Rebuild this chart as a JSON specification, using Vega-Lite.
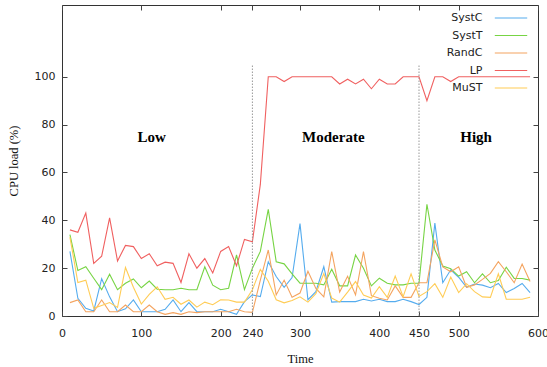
{
  "$schema": "https://vega.github.io/schema/vega-lite/v6.json",
  "width": 476,
  "height": 311,
  "autosize": {"type": "none"},
  "padding": {"left": 62, "top": 5, "right": 9, "bottom": 51},
  "config": {
    "view": {"stroke": "#333333", "strokeWidth": 1},
    "font": "DejaVu Sans",
    "axis": {
      "domain": false,
      "grid": false,
      "tickColor": "#444444",
      "tickSize": -5,
      "tickWidth": 1,
      "labelFont": "DejaVu Sans",
      "labelFontSize": 11,
      "labelColor": "#222222",
      "titleFont": "Liberation Serif",
      "titleFontSize": 12.5,
      "titleFontWeight": "normal",
      "titleColor": "#111111"
    }
  },
  "datasets": {
    "cpu": [
      {"t":10,"SystC":27,"SystT":34,"RandC":5.6,"LP":36,"MuST":33},
      {"t":20,"SystC":7.4,"SystT":19,"RandC":6.7,"LP":35,"MuST":14},
      {"t":30,"SystC":3.2,"SystT":20.6,"RandC":1.8,"LP":43,"MuST":15},
      {"t":40,"SystC":2.1,"SystT":15.8,"RandC":1.8,"LP":22,"MuST":3.2},
      {"t":50,"SystC":15.6,"SystT":11,"RandC":6.7,"LP":25,"MuST":4.4},
      {"t":60,"SystC":8,"SystT":17.5,"RandC":1.8,"LP":41,"MuST":5.6},
      {"t":70,"SystC":1.8,"SystT":11,"RandC":1.8,"LP":23,"MuST":3.6},
      {"t":80,"SystC":3,"SystT":13.7,"RandC":4.6,"LP":29.5,"MuST":20.3},
      {"t":90,"SystC":6.7,"SystT":15.5,"RandC":1.8,"LP":29,"MuST":12},
      {"t":100,"SystC":1.8,"SystT":11.8,"RandC":1.8,"LP":24,"MuST":5},
      {"t":110,"SystC":1.8,"SystT":14.6,"RandC":4.6,"LP":26,"MuST":9},
      {"t":120,"SystC":1.8,"SystT":11.2,"RandC":1.8,"LP":21,"MuST":12.2},
      {"t":130,"SystC":2.8,"SystT":11,"RandC":0.7,"LP":22.5,"MuST":7},
      {"t":140,"SystC":6.7,"SystT":11,"RandC":1.4,"LP":22,"MuST":7.8},
      {"t":150,"SystC":1.8,"SystT":11.6,"RandC":0.7,"LP":14,"MuST":4.9},
      {"t":160,"SystC":5.6,"SystT":11,"RandC":1.8,"LP":26,"MuST":6.7},
      {"t":170,"SystC":1.8,"SystT":11,"RandC":1.4,"LP":20,"MuST":3.7},
      {"t":180,"SystC":1.8,"SystT":20.6,"RandC":1.8,"LP":24,"MuST":5.8},
      {"t":190,"SystC":1.8,"SystT":12.9,"RandC":1.8,"LP":18,"MuST":4.7},
      {"t":200,"SystC":2.8,"SystT":11,"RandC":1.8,"LP":27,"MuST":6.8},
      {"t":210,"SystC":1.8,"SystT":11.6,"RandC":1.8,"LP":29,"MuST":6.7},
      {"t":220,"SystC":0.7,"SystT":25.5,"RandC":2.8,"LP":21,"MuST":5.8},
      {"t":230,"SystC":6,"SystT":11,"RandC":1.8,"LP":32,"MuST":5.8},
      {"t":240,"SystC":8.8,"SystT":20,"RandC":1.5,"LP":31,"MuST":11},
      {"t":250,"SystC":8.1,"SystT":27,"RandC":15,"LP":55,"MuST":19.5},
      {"t":260,"SystC":22.7,"SystT":44.6,"RandC":27.6,"LP":100,"MuST":14.5},
      {"t":270,"SystC":16.5,"SystT":22.7,"RandC":8.8,"LP":100,"MuST":6.8},
      {"t":280,"SystC":12,"SystT":21.8,"RandC":15,"LP":98,"MuST":5.5},
      {"t":290,"SystC":16.1,"SystT":17.6,"RandC":7.8,"LP":100,"MuST":6.5},
      {"t":300,"SystC":38.6,"SystT":13.7,"RandC":9.6,"LP":100,"MuST":8},
      {"t":310,"SystC":6.8,"SystT":13.7,"RandC":18.7,"LP":100,"MuST":5.8},
      {"t":320,"SystC":10.2,"SystT":13.7,"RandC":11.5,"LP":100,"MuST":9.3},
      {"t":330,"SystC":20.6,"SystT":13,"RandC":8,"LP":100,"MuST":17.7},
      {"t":340,"SystC":5.8,"SystT":19.5,"RandC":26.9,"LP":100,"MuST":7.5},
      {"t":350,"SystC":6,"SystT":12.6,"RandC":10,"LP":97,"MuST":5.8},
      {"t":360,"SystC":6,"SystT":12.6,"RandC":16.6,"LP":99,"MuST":10},
      {"t":370,"SystC":6,"SystT":25.5,"RandC":8.8,"LP":97,"MuST":14.4},
      {"t":380,"SystC":7,"SystT":20,"RandC":26.9,"LP":99,"MuST":8.8},
      {"t":390,"SystC":6.3,"SystT":12.6,"RandC":8.5,"LP":95,"MuST":7.5},
      {"t":400,"SystC":7,"SystT":15.8,"RandC":7.4,"LP":99,"MuST":12.3},
      {"t":410,"SystC":6,"SystT":13.7,"RandC":6.7,"LP":97,"MuST":7.8},
      {"t":420,"SystC":6,"SystT":13,"RandC":12.6,"LP":97,"MuST":16.7},
      {"t":430,"SystC":7,"SystT":13,"RandC":7.8,"LP":100,"MuST":8.1},
      {"t":440,"SystC":6,"SystT":13.7,"RandC":7.8,"LP":100,"MuST":17.6},
      {"t":450,"SystC":4.8,"SystT":13.7,"RandC":13.9,"LP":100,"MuST":8.2},
      {"t":460,"SystC":7.8,"SystT":46.7,"RandC":13.9,"LP":90,"MuST":10.2},
      {"t":470,"SystC":38.8,"SystT":27.6,"RandC":31.8,"LP":100,"MuST":13.5},
      {"t":480,"SystC":13.9,"SystT":20.9,"RandC":20.5,"LP":100,"MuST":7.8},
      {"t":490,"SystC":19.3,"SystT":19.8,"RandC":18.5,"LP":98,"MuST":16.3},
      {"t":500,"SystC":16.2,"SystT":16.7,"RandC":20.6,"LP":100,"MuST":9.8},
      {"t":510,"SystC":12,"SystT":18.5,"RandC":12,"LP":100,"MuST":13.5},
      {"t":520,"SystC":13.4,"SystT":13.9,"RandC":13,"LP":100,"MuST":10.2},
      {"t":530,"SystC":12.9,"SystT":17.6,"RandC":15.3,"LP":100,"MuST":8},
      {"t":540,"SystC":11.8,"SystT":13.9,"RandC":17.8,"LP":100,"MuST":7.8},
      {"t":550,"SystC":13.6,"SystT":14.8,"RandC":22.7,"LP":100,"MuST":17.6},
      {"t":560,"SystC":9.8,"SystT":20.4,"RandC":18.5,"LP":100,"MuST":7},
      {"t":570,"SystC":11.5,"SystT":15.7,"RandC":13.9,"LP":100,"MuST":7},
      {"t":580,"SystC":13.6,"SystT":15.7,"RandC":21.7,"LP":100,"MuST":7},
      {"t":590,"SystC":9.8,"SystT":15,"RandC":14.4,"LP":100,"MuST":7.8}
    ],
    "phases": [
      {"t": 240, "lo": 0, "hi": 105},
      {"t": 450, "lo": 0, "hi": 105}
    ],
    "labels": [
      {"t": 113, "v": 75, "label": "Low"},
      {"t": 342, "v": 75, "label": "Moderate"},
      {"t": 522, "v": 75, "label": "High"}
    ]
  },
  "layer": [
    {
      "data": {"name": "cpu"},
      "transform": [
        {"fold": ["SystC", "SystT", "RandC", "LP", "MuST"], "as": ["series", "load"]}
      ],
      "mark": {"type": "line", "strokeWidth": 1.1},
      "encoding": {
        "x": {
          "field": "t", "type": "quantitative",
          "scale": {"domain": [0, 600], "nice": false, "zero": false},
          "axis": {"orient": "bottom", "title": "Time", "values": [0, 100, 200, 240, 300, 400, 450, 500, 600], "labelPadding": 16, "titlePadding": 14, "labelFlush": false}
        },
        "y": {
          "field": "load", "type": "quantitative",
          "scale": {"domain": [0, 130], "nice": false},
          "axis": {"orient": "left", "title": "CPU load (%)", "values": [0, 20, 40, 60, 80, 100], "labelPadding": 12, "titlePadding": 14}
        },
        "color": {
          "field": "series", "type": "nominal",
          "scale": {
            "domain": ["SystC", "SystT", "RandC", "LP", "MuST"],
            "range": ["#55acee", "#77d444", "#f4a460", "#f06060", "#ffcc55"]
          },
          "legend": {
            "title": null,
            "orient": "none",
            "legendX": 439,
            "legendY": 3,
            "padding": 0,
            "symbolType": "M-1.8,0H1.8",
            "symbolSize": 324,
            "symbolStrokeWidth": 1.2,
            "rowPadding": 2.5,
            "labelAlign": "right",
            "labelOffset": -38.5,
            "labelFont": "DejaVu Sans",
            "labelFontSize": 11,
            "labelColor": "#222222"
          }
        }
      }
    },
    {
      "data": {"name": "phases"},
      "mark": {"type": "rule", "stroke": "#999999", "strokeWidth": 1, "strokeDash": [1.5, 1.5]},
      "encoding": {
        "x": {
          "field": "t", "type": "quantitative",
          "scale": {"domain": [0, 600], "nice": false, "zero": false},
          "axis": {"orient": "top", "title": null, "labels": false, "values": [0, 100, 200, 240, 300, 400, 450, 500, 600]}
        },
        "y": {
          "field": "lo", "type": "quantitative",
          "scale": {"domain": [0, 130], "nice": false},
          "axis": {"orient": "right", "title": null, "labels": false, "values": [0, 20, 40, 60, 80, 100]}
        },
        "y2": {"field": "hi"}
      }
    },
    {
      "data": {"name": "labels"},
      "mark": {"type": "text", "font": "Liberation Serif", "fontSize": 15, "fontWeight": "bold", "color": "#000000", "baseline": "middle", "align": "center"},
      "encoding": {
        "x": {"field": "t", "type": "quantitative", "scale": {"domain": [0, 600], "nice": false, "zero": false}, "axis": null},
        "y": {"field": "v", "type": "quantitative", "scale": {"domain": [0, 130], "nice": false}, "axis": null},
        "text": {"field": "label"}
      }
    }
  ],
  "resolve": {"axis": {"x": "independent", "y": "independent"}}
}
